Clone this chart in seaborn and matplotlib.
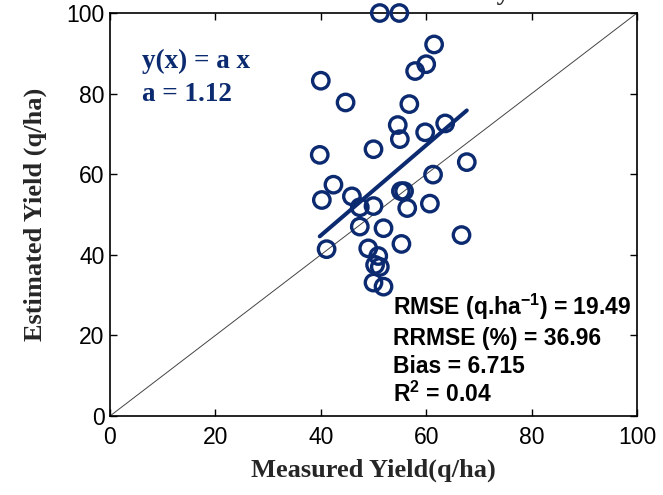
import numpy as np
import pandas as pd
import matplotlib
matplotlib.use("Agg")
import matplotlib.pyplot as plt
import seaborn as sns

# ---- data ----
measured = [51.2, 54.9, 61.5, 60.0, 57.9, 40.0, 44.7, 56.8, 54.6, 55.0, 59.8, 63.6,
            50.0, 39.8, 61.3, 42.4, 45.9, 40.2, 55.2, 55.8, 50.0, 47.4, 56.4, 60.7,
            67.7, 47.4, 51.9, 55.3, 41.1, 49.0, 50.9, 50.3, 51.2, 50.0, 51.9, 66.7]
estimated = [100, 100, 92.2, 87.3, 85.6, 83.2, 77.8, 77.4, 72.2, 68.7, 70.4, 72.6,
             66.2, 64.8, 59.9, 57.4, 54.5, 53.6, 55.8, 55.8, 52.1, 51.8, 51.6, 52.7,
             63.0, 47.0, 46.6, 42.7, 41.4, 41.6, 39.7, 37.5, 37.0, 33.1, 32.1, 44.9]
slope_a = 1.12
stats_lines = [r"RMSE (q.ha$^{-1}$) = 19.49", "RRMSE (%) = 36.96", "Bias = 6.715",
               r"R$^{2}$ = 0.04"]
eq_lines = ["y(x) = a x", "a = 1.12"]
ticks = [0, 20, 40, 60, 80, 100]

navy = "#0b2a70"

sns.set_theme(style="ticks")
plt.rcParams["font.family"] = ["Liberation Sans", "DejaVu Sans"]
plt.rcParams["mathtext.fontset"] = "custom"
plt.rcParams["mathtext.rm"] = "Liberation Sans:bold"
plt.rcParams["mathtext.default"] = "rm"

df = pd.DataFrame({"Measured": measured, "Estimated": estimated})

fig = plt.figure(figsize=(6.63, 4.95), dpi=100)
ax = fig.add_axes([0.1659, 0.1596, 0.7949, 0.8141])

# 1:1 line
ax.axline((0, 0), slope=1, color="#444444", lw=0.7, zorder=1)

# fitted line through origin across measured range
xf = np.array([min(measured), max(measured)])
sns.lineplot(x=xf, y=slope_a * xf, ax=ax, color=navy, lw=2.9, zorder=2)

sns.scatterplot(data=df, x="Measured", y="Estimated", ax=ax, s=140,
                facecolor="none", edgecolor=navy, linewidth=2.4, zorder=3,
                clip_on=False)

ax.set_xlim(0, 100)
ax.set_ylim(0, 100)
ax.set_xticks(ticks)
ax.set_yticks(ticks)
ax.tick_params(direction="in", top=True, right=True, length=5, width=1,
               labelsize=16.5, colors="black")
ax.tick_params(axis="x", pad=7)
ax.tick_params(axis="y", pad=4)
for s in ax.spines.values():
    s.set_linewidth(1.2)
    s.set_color("black")

ax.set_xlabel("Measured Yield(q/ha)", fontsize=19, fontweight="bold",
              family=["Liberation Serif"], labelpad=7)
ax.set_ylabel("Estimated Yield (q/ha)", fontsize=19, fontweight="bold",
              family=["Liberation Serif"], labelpad=14)

ax.text(0.060, 0.863, eq_lines[0], transform=ax.transAxes, fontsize=19.5,
        fontweight="bold", family=["Liberation Serif"], color=navy, va="baseline")
ax.text(0.060, 0.782, eq_lines[1], transform=ax.transAxes, fontsize=19.5,
        fontweight="bold", family=["Liberation Serif"], color=navy, va="baseline")

ys = [0.251, 0.176, 0.106, 0.035]
for t, yy in zip(stats_lines, ys):
    ax.text(0.537, yy, t, transform=ax.transAxes, fontsize=16.5,
            fontweight="bold", color="black", va="baseline")

fig.text(0.77, 1.0, "Accuracy", ha="right", va="baseline", fontsize=19,
         fontweight="bold", family=["Liberation Serif"])

fig.savefig("out.png", dpi=100)
